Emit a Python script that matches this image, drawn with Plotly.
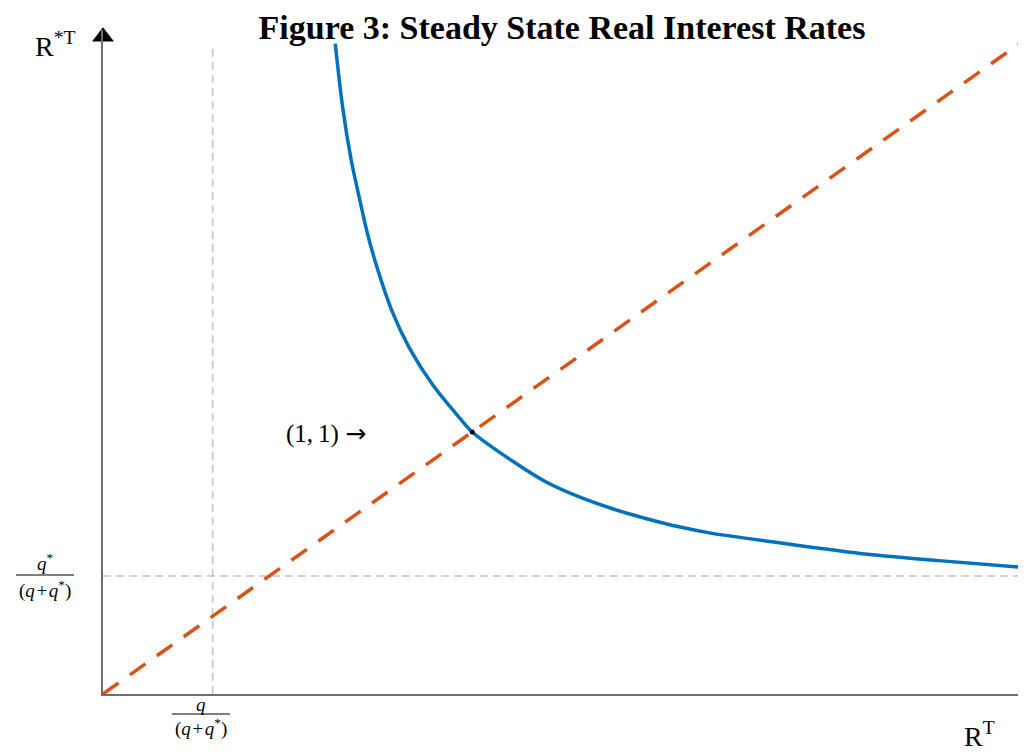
import plotly.graph_objects as go

# ---- data ----
curve_x = [0.629, 0.649, 0.672, 0.694, 0.714, 0.739, 0.784, 0.830, 0.893, 0.965, 1.000,
           1.108, 1.199, 1.290, 1.380, 1.470, 1.560, 1.650, 1.750, 1.903, 2.083, 2.264, 2.480]
curve_y = [2.482, 2.240, 2.040, 1.895, 1.770, 1.643, 1.457, 1.320, 1.180, 1.055, 1.000,
           0.890, 0.810, 0.752, 0.707, 0.670, 0.638, 0.613, 0.593, 0.563, 0.531, 0.509, 0.484]
diag_x = [0.0, 2.49]
diag_y = [0.0, 2.49]
q_share = 0.297        # q/(q+q*) vertical reference
qstar_share = 0.45     # q*/(q+q*) horizontal reference
ref_end = 2.48
intersection = (1.0, 1.0)

W, H = 1026, 754
OFF = 8   # page body margin offset
L, R, T, B = 103 - OFF, OFF, 30 - OFF, 60 + OFF
PW, PH = W - L - R, H - T - B
XMAX = 2.5
YMAX = 2.534

# helpers: screen pixel -> paper fraction
def px(xs):
    return (xs - OFF - L) / PW

def py(ys):
    return (H - B - (ys - OFF)) / PH

SERIF = "Liberation Serif"
GRAY_AX = "#6e6e6e"
GRAY_REF = "#c4c4c4"

fig = go.Figure()

# reference dashed lines
fig.add_trace(go.Scatter(x=[q_share, q_share], y=[0, ref_end], mode="lines",
                         line=dict(color=GRAY_REF, width=1.5, dash="8px,5px"),
                         hoverinfo="skip", showlegend=False))
fig.add_trace(go.Scatter(x=[0, ref_end], y=[qstar_share, qstar_share], mode="lines",
                         line=dict(color=GRAY_REF, width=1.5, dash="8px,5px"),
                         hoverinfo="skip", showlegend=False))

# 45 degree line
fig.add_trace(go.Scatter(x=diag_x, y=diag_y, mode="lines",
                         line=dict(color="#D95319", width=3.5, dash="19px,14px"),
                         showlegend=False))
# steady-state curve
fig.add_trace(go.Scatter(x=curve_x, y=curve_y, mode="lines", line_shape="spline",
                         line=dict(color="#0072BD", width=3.5, smoothing=0.8), showlegend=False))
# intersection dot
fig.add_trace(go.Scatter(x=[intersection[0]], y=[intersection[1]], mode="markers",
                         marker=dict(color="black", size=5), showlegend=False))

# axis arrowheads
fig.add_trace(go.Scatter(x=[0], y=[2.508], mode="markers", cliponaxis=False,
                         marker=dict(symbol="triangle-up", size=19, color="black"),
                         hoverinfo="skip", showlegend=False))
fig.add_trace(go.Scatter(x=[2.508], y=[0], mode="markers", cliponaxis=False,
                         marker=dict(symbol="triangle-right", size=19, color="black"),
                         hoverinfo="skip", showlegend=False))

ann = []
def text(xs, ys, s, size, xanchor="center", yanchor="middle"):
    ann.append(dict(x=px(xs), y=py(ys), xref="paper", yref="paper", text=s, showarrow=False,
                    xanchor=xanchor, yanchor=yanchor,
                    font=dict(family=SERIF, size=size, color="black")))

# axis labels
text(55, 44, "R<sup>*T</sup>", 28)
text(979, 734, "R<sup>T</sup>", 28)
# y tick fraction
text(45, 562, "<i>q</i><sup>*</sup>", 19)
text(45, 589, "(<i>q</i>&#8202;+&#8202;<i>q</i><sup>*</sup>)", 19)
# x tick fraction
text(201, 704, "<i>q</i>", 19)
text(201, 727, "(<i>q</i>&#8202;+&#8202;<i>q</i><sup>*</sup>)", 19)
# point label
text(368, 433, "(1,&#8201;1) <span style='font-family:DejaVu Sans'>&#8594;</span>", 25, xanchor="right")

shapes = [
    dict(type="line", xref="paper", yref="paper", x0=px(16), x1=px(74), y0=py(575), y1=py(575),
         line=dict(color="black", width=1)),
    dict(type="line", xref="paper", yref="paper", x0=px(172), x1=px(230), y0=py(714), y1=py(714),
         line=dict(color="black", width=1)),
]

fig.update_layout(
    width=W, height=H,
    margin=dict(l=L, r=R, t=T, b=B, autoexpand=False),
    paper_bgcolor="white", plot_bgcolor="white",
    title=dict(text="<b>Figure 3: Steady State Real Interest Rates</b>",
               x=(562 - OFF) / W, y=1 - (27 - OFF) / H, xref="container", yref="container",
               xanchor="center", yanchor="middle",
               font=dict(family=SERIF, size=34, color="black")),
    xaxis=dict(range=[0, XMAX], showgrid=False, zeroline=False, showticklabels=False,
               ticks="", showline=True, linecolor=GRAY_AX, linewidth=2, fixedrange=True),
    yaxis=dict(range=[0, YMAX], showgrid=False, zeroline=False, showticklabels=False,
               ticks="", showline=True, linecolor=GRAY_AX, linewidth=2, fixedrange=True),
    annotations=ann,
    shapes=shapes,
    showlegend=False,
)

fig.write_html("out.html")
